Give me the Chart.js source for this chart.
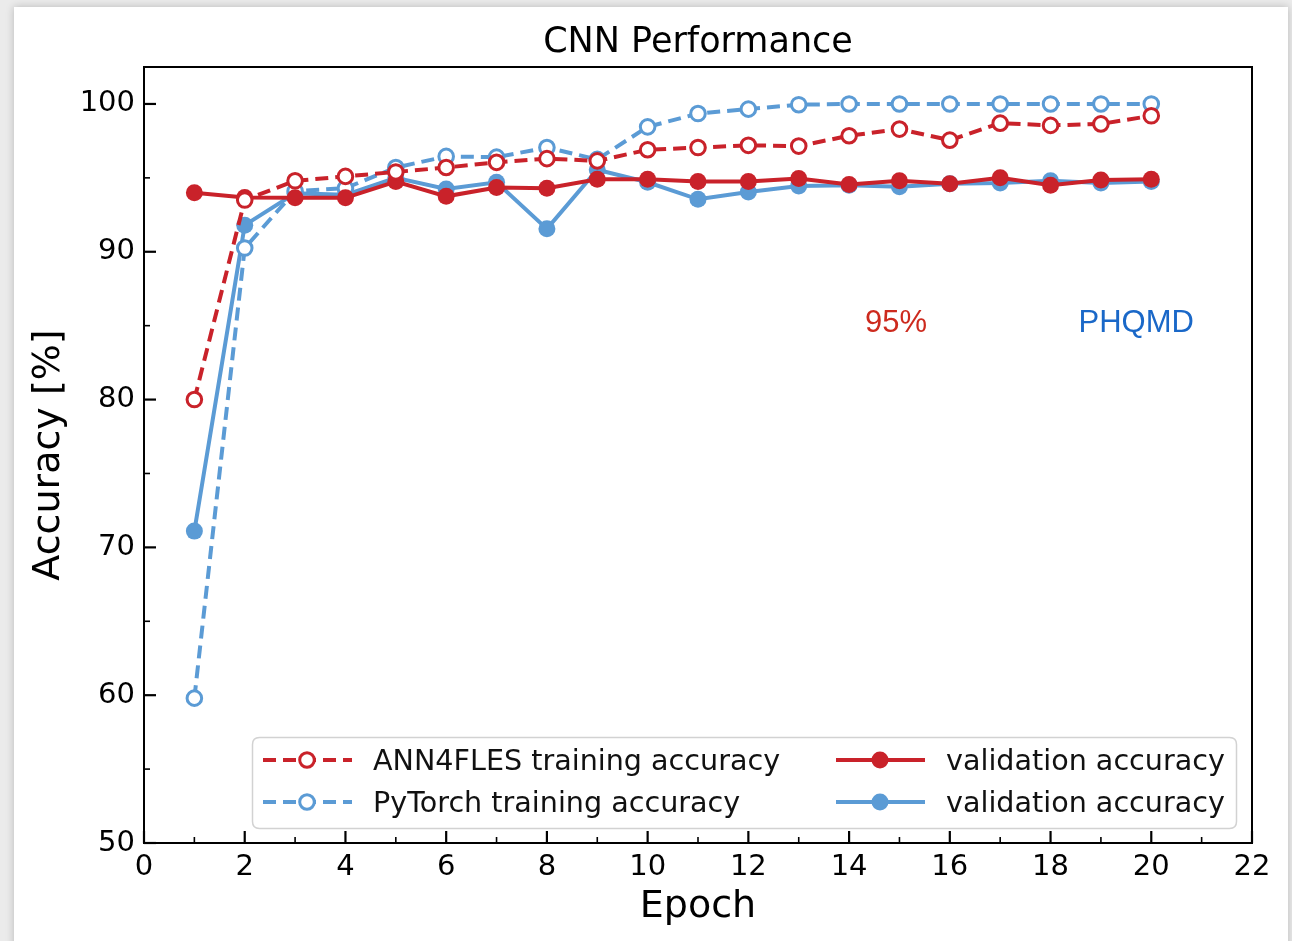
<!DOCTYPE html>
<html><head><meta charset="utf-8">
<script src="https://cdn.jsdelivr.net/npm/chart.js@4.4.1/dist/chart.umd.min.js"></script>
<style>
html,body{margin:0;padding:0;width:1292px;height:941px;overflow:hidden;background:#ebebeb;}
#card{position:absolute;left:14px;top:7px;width:1274px;height:960px;background:#fff;box-shadow:0 0 8px rgba(0,0,0,0.22);}
#wrap{position:absolute;left:0;top:0;width:1292px;height:941px;}
</style></head><body>
<div id="card"></div>
<div id="wrap"><canvas id="c" width="1292" height="941"></canvas></div>
<script>
// ---- data ----
const epochs = [1,2,3,4,5,6,7,8,9,10,11,12,13,14,15,16,17,18,19,20];
const ann4flesTrain = [80.0,93.5,94.8,95.1,95.4,95.7,96.05,96.3,96.15,96.9,97.05,97.2,97.15,97.85,98.3,97.55,98.7,98.55,98.65,99.2];
const ann4flesVal   = [94.0,93.67,93.65,93.65,94.75,93.75,94.35,94.3,94.9,94.9,94.75,94.75,94.95,94.55,94.8,94.6,95.0,94.5,94.85,94.9];
const pytorchTrain  = [59.8,90.25,94.1,94.3,95.7,96.45,96.4,97.05,96.25,98.45,99.35,99.65,99.95,100.0,100.0,100.0,100.0,100.0,100.0,100.0];
const pytorchVal    = [71.1,91.8,93.95,93.85,95.0,94.25,94.7,91.55,95.55,94.7,93.55,94.05,94.45,94.5,94.4,94.6,94.65,94.8,94.65,94.75];
const seriesLabels  = ['ANN4FLES training accuracy','PyTorch training accuracy','validation accuracy','validation accuracy'];
const xTickValues = [0,2,4,6,8,10,12,14,16,18,20,22];
const xMinorTicks = [1,3,5,7,9,11,13,15,17,19,21];
const yTickValues = [50,60,70,80,90,100];
const yMinorTicks = [55,65,75,85,95];
const annotations = [{text:'95%', x:14.93, y:85.2, color:'#cd2a1e'},{text:'PHQMD', x:19.7, y:85.2, color:'#1a68c8'}];

const RED = '#c9222a', BLUE = '#5b9bd5';
const pts = arr => epochs.map((e,i)=>({x:e,y:arr[i]}));

const openPt = c => ({borderColor:c, pointBorderColor:c, pointBackgroundColor:'#ffffff', pointRadius:7.3, pointBorderWidth:3, borderWidth:4, borderDash:[13,7]});
const fillPt = c => ({borderColor:c, pointBorderColor:c, pointBackgroundColor:c, pointRadius:8.5, pointBorderWidth:0, borderWidth:4});

const datasets = [
  Object.assign({label:seriesLabels[0], data:pts(ann4flesTrain), order:0}, openPt(RED)),
  Object.assign({label:seriesLabels[1], data:pts(pytorchTrain), order:2}, openPt(BLUE)),
  Object.assign({label:seriesLabels[2], data:pts(ann4flesVal), order:1}, fillPt(RED)),
  Object.assign({label:seriesLabels[3], data:pts(pytorchVal), order:3}, fillPt(BLUE)),
];

const FONT = "'DejaVu Sans', sans-serif";

const decor = {
  id:'decor',
  afterDraw(chart){
    const ctx = chart.ctx, a = chart.chartArea, xs = chart.scales.x, ys = chart.scales.y;
    ctx.save();
    ctx.strokeStyle = '#000'; ctx.lineWidth = 2;
    ctx.strokeRect(a.left, a.top, a.right-a.left, a.bottom-a.top);
    ctx.lineCap = 'butt';
    const tick = (x1,y1,x2,y2,w)=>{ctx.lineWidth=w;ctx.beginPath();ctx.moveTo(x1,y1);ctx.lineTo(x2,y2);ctx.stroke();};
    xTickValues.forEach(v=>{const p=xs.getPixelForValue(v); tick(p,a.bottom,p,a.bottom-12,2.2);});
    xMinorTicks.forEach(v=>{const p=xs.getPixelForValue(v); tick(p,a.bottom,p,a.bottom-6,1.6);});
    yTickValues.forEach(v=>{const p=ys.getPixelForValue(v); tick(a.left,p,a.left+12,p,2.2);});
    yMinorTicks.forEach(v=>{const p=ys.getPixelForValue(v); tick(a.left,p,a.left+6,p,1.6);});
    ctx.font = "31px 'Liberation Sans', Arial, sans-serif";
    ctx.textAlign = 'center'; ctx.textBaseline = 'middle';
    annotations.forEach(t=>{ctx.fillStyle=t.color; ctx.fillText(t.text, xs.getPixelForValue(t.x), ys.getPixelForValue(t.y)+1);});
    const bx=252.5, by=737.5, bw=984, bh=91, r=7;
    ctx.beginPath();
    ctx.moveTo(bx+r,by); ctx.lineTo(bx+bw-r,by); ctx.quadraticCurveTo(bx+bw,by,bx+bw,by+r);
    ctx.lineTo(bx+bw,by+bh-r); ctx.quadraticCurveTo(bx+bw,by+bh,bx+bw-r,by+bh);
    ctx.lineTo(bx+r,by+bh); ctx.quadraticCurveTo(bx,by+bh,bx,by+bh-r);
    ctx.lineTo(bx,by+r); ctx.quadraticCurveTo(bx,by,bx+r,by); ctx.closePath();
    ctx.fillStyle='rgba(255,255,255,0.85)'; ctx.fill();
    ctx.strokeStyle='#d2d2d2'; ctx.lineWidth=1.5; ctx.stroke();
    const slots = [{i:0,x:263,y:760},{i:1,x:263,y:802},{i:2,x:836,y:760},{i:3,x:836,y:802}];
    slots.forEach(s=>{
      const ds = chart.data.datasets[s.i];
      ctx.strokeStyle = ds.borderColor; ctx.lineWidth = ds.borderWidth;
      ctx.setLineDash(ds.borderDash||[]);
      ctx.beginPath(); ctx.moveTo(s.x,s.y); ctx.lineTo(s.x+89,s.y); ctx.stroke();
      ctx.setLineDash([]);
      ctx.beginPath(); ctx.arc(s.x+44,s.y,ds.pointRadius,0,Math.PI*2);
      ctx.fillStyle = ds.pointBackgroundColor; ctx.fill();
      if (ds.pointBorderWidth>0){ctx.lineWidth=ds.pointBorderWidth; ctx.strokeStyle=ds.pointBorderColor; ctx.stroke();}
      ctx.fillStyle='#111'; ctx.font = "28.6px "+FONT; ctx.textAlign='left'; ctx.textBaseline='middle';
      ctx.fillText(ds.label, s.x+110, s.y+3);
    });
    ctx.restore();
  }
};

new Chart(document.getElementById('c'), {
  type:'line',
  data:{datasets},
  options:{
    responsive:false, animation:false, devicePixelRatio:1,
    layout:{padding:{left:0,right:40,top:0,bottom:0}},
    plugins:{
      legend:{display:false}, tooltip:{enabled:false},
      title:{display:true, fullSize:false, text:'CNN Performance', color:'#000', font:{family:FONT,size:35,weight:'normal',lineHeight:1.2}, padding:{top:22,bottom:3}}
    },
    scales:{
      x:{type:'linear', min:0, max:22,
        afterBuildTicks: s=>{s.ticks = xTickValues.map(v=>({value:v}));},
        afterFit: s=>{s.height = 98;},
        grid:{display:false, drawTicks:false}, border:{display:false},
        ticks:{color:'#000', font:{family:FONT,size:29}, padding:7, maxRotation:0, autoSkip:false},
        title:{display:true, text:'Epoch', color:'#000', font:{family:FONT,size:38}, padding:{top:0,bottom:11}}
      },
      y:{type:'linear', min:50, max:102.5,
        afterBuildTicks: s=>{s.ticks = yTickValues.map(v=>({value:v}));},
        afterFit: s=>{s.width = 144;},
        grid:{display:false, drawTicks:false}, border:{display:false},
        ticks:{color:'#000', font:{family:FONT,size:29}, padding:9, autoSkip:false},
        title:{display:true, text:'Accuracy [%]', color:'#000', font:{family:FONT,size:38}, padding:{top:26,bottom:0}}
      }
    }
  },
  plugins:[decor]
});
</script>
</body></html>
